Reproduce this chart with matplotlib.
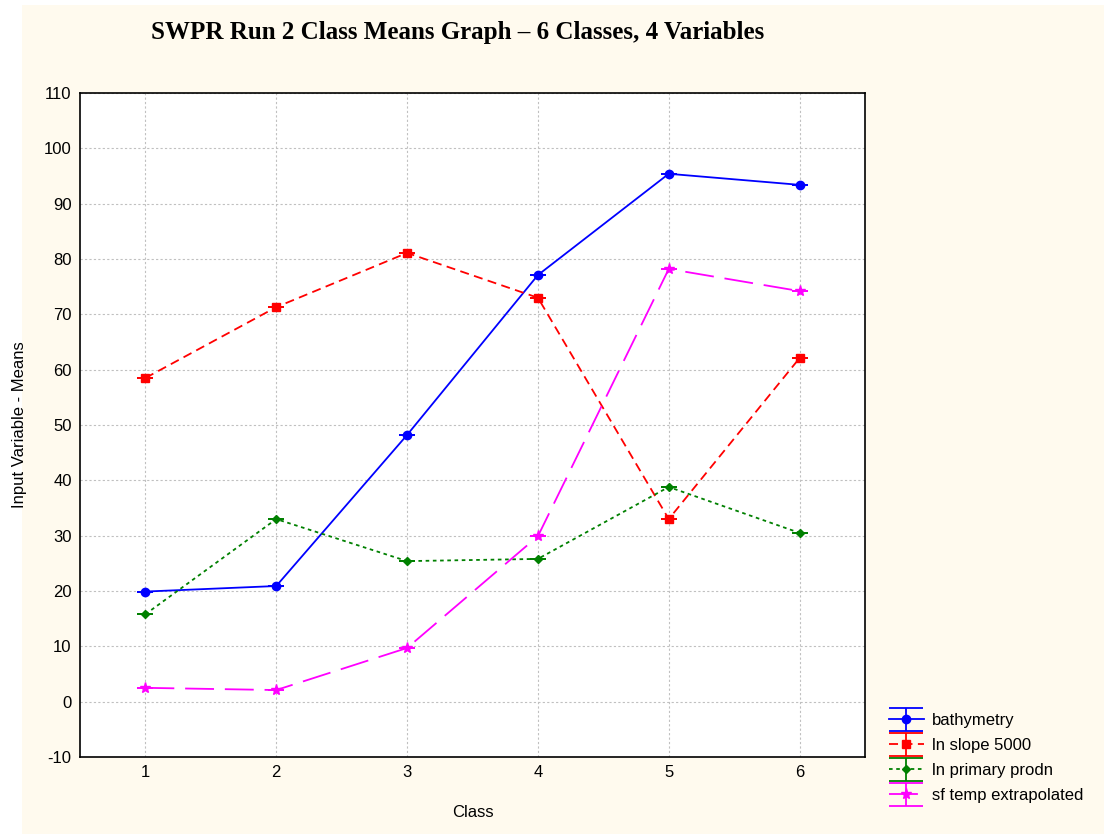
import numpy as np
import matplotlib
matplotlib.use('Agg')
import matplotlib.pyplot as plt
import matplotlib.patches as patches
from matplotlib.container import ErrorbarContainer
from matplotlib.legend_handler import HandlerErrorbar

classes = [1, 2, 3, 4, 5, 6]
bathymetry = [19.9, 20.9, 48.2, 77.1, 95.4, 93.4]
ln_slope = [58.5, 71.3, 81.1, 73.0, 33.0, 62.1]
ln_primary = [15.8, 33.0, 25.4, 25.8, 38.8, 30.5]
sf_temp = [2.5, 2.1, 9.7, 29.9, 78.2, 74.2]

labels = ['bathymetry', 'ln slope 5000', 'ln primary prodn', 'sf temp extrapolated']
colors = ['#0000ff', '#ff0000', '#008000', '#ff00ff']
markers = ['o', 's', 'D', '*']
styles = ['-', (0, (5, 3)), (0, (2, 2)), (0, (16, 6))]
msizes = [6, 6, 4, 8]

plt.rcParams['font.family'] = ['Liberation Sans', 'DejaVu Sans']
plt.rcParams['axes.unicode_minus'] = False

fig = plt.figure(figsize=(11.04, 8.34), dpi=100)
fig.patch.set_facecolor('white')
fig.patches.append(patches.Rectangle((22 / 1104, 0), 1 - 22 / 1104, 1 - 5 / 834,
                                     transform=fig.transFigure, facecolor='#fffaee',
                                     edgecolor='none', zorder=-10))

ax = fig.add_axes([80 / 1104, 1 - 757 / 834, 785 / 1104, 664 / 834])
ax.set_facecolor('white')

series = [bathymetry, ln_slope, ln_primary, sf_temp]
for i in range(4):
    ax.errorbar(classes, series[i], yerr=np.zeros(6), color=colors[i], ecolor=colors[i],
                linestyle=styles[i], linewidth=1.3, marker=markers[i], markersize=msizes[i],
                capsize=6, capthick=1.3, elinewidth=1.3)

# legend proxies with wide caps
handles = []
for i in range(4):
    h = ax.errorbar([np.nan], [np.nan], yerr=[1], color=colors[i], ecolor=colors[i],
                    linestyle=styles[i], linewidth=1.3, marker=markers[i],
                    markersize=msizes[i], capsize=12, capthick=1.3, elinewidth=1.3,
                    label=labels[i])
    handles.append(h)

ax.set_xlim(0.5, 6.5)
ax.set_ylim(-10, 110)
ax.set_xticks(classes)
ax.set_yticks(np.arange(-10, 111, 10))
ax.tick_params(labelsize=12, length=0, pad=6)
ax.grid(True, color='#c0c0c0', linestyle=(0, (2, 2)), linewidth=0.8)
for s in ax.spines.values():
    s.set_linewidth(1.2)

ax.set_xlabel('Class', fontsize=12, labelpad=18)
ax.set_ylabel('Input Variable - Means', fontsize=12, labelpad=12)

fig.text(458 / 1104, 1 - 33 / 834, 'SWPR Run 2 Class Means Graph \u2013 6 Classes, 4 Variables',
         ha='center', va='center', fontsize=18, fontweight='bold',
         family=['Liberation Serif', 'DejaVu Serif'])

fig.legend(handles=handles, labels=labels, loc='lower left',
           bbox_to_anchor=(882 / 1104, 1 - 810 / 834), frameon=False,
           fontsize=12, handlelength=2.1, handletextpad=0.5, labelspacing=0.6,
           borderaxespad=0,
           handler_map={ErrorbarContainer: HandlerErrorbar(yerr_size=0.7)})

fig.savefig('out.png', dpi=100, facecolor=fig.get_facecolor())
